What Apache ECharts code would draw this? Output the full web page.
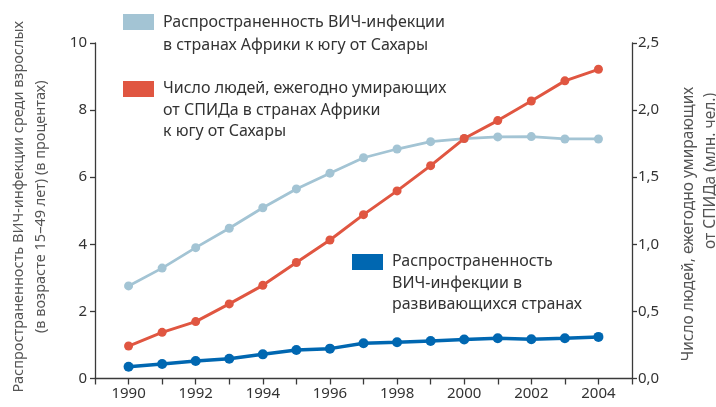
<!DOCTYPE html>
<html><head><meta charset="utf-8">
<script src="https://cdn.jsdelivr.net/npm/echarts@6/dist/echarts.min.js"></script>
<style>html,body{margin:0;padding:0;background:#fff}#c{width:716px;height:407px}</style>
</head><body><div id="c"></div>
<script>
var years = [1990,1991,1992,1993,1994,1995,1996,1997,1998,1999,2000,2001,2002,2003,2004];
var prevalenceSSA = [2.76,3.29,3.90,4.48,5.09,5.65,6.12,6.58,6.84,7.06,7.15,7.20,7.21,7.14,7.14];
var deathsSSA = [0.242,0.344,0.424,0.556,0.694,0.864,1.032,1.221,1.398,1.586,1.788,1.922,2.068,2.218,2.304];
var prevalenceDev = [0.35,0.43,0.52,0.59,0.72,0.85,0.89,1.05,1.08,1.12,1.16,1.20,1.17,1.20,1.24];
var xTickLabels = ["1990","1992","1994","1996","1998","2000","2002","2004"];
var seriesNames = [
  "Распространенность ВИЧ-инфекции\nв странах Африки к югу от Сахары",
  "Число людей, ежегодно умирающих\nот СПИДа в странах Африки\nк югу от Сахары",
  "Распространенность\nВИЧ-инфекции в\nразвивающихся странах"
];
var leftAxisName = "Распространенность ВИЧ-инфекции среди взрослых\n(в возрасте 15–49 лет) (в процентах)";
var rightAxisLines = ["Число людей, ежегодно умирающих", "от СПИДа (млн. чел.)"];
var colors = ["#a3c4d4","#e05641","#0067b1"];

function pairs(vals){ return years.map(function(y,i){ return [y, vals[i]]; }); }
var FONT = "Noto Sans";
var axisColor = "#3a3a3a";
var textColor = "#333";
var nameColor = "#555";

var chart = echarts.init(document.getElementById('c'), null, {renderer:'canvas'});
function legendItem(i, x, y, lh){
  return [
    {type:'rect', left:x, top:y, shape:{width:31,height:16}, style:{fill:colors[i]}},
    {type:'text', left:x+40, top:y-3, style:{text:seriesNames[i], font:'16px "'+FONT+'"', fill:textColor, lineHeight:lh}}
  ];
}
var rightName = [
  {type:'text', x:689, y:224, rotation:Math.PI/2, style:{text:rightAxisLines[0], font:'15.5px "'+FONT+'"', fill:nameColor, align:'center', verticalAlign:'middle'}},
  {type:'text', x:711, y:171, rotation:Math.PI/2, style:{text:rightAxisLines[1], font:'15.5px "'+FONT+'"', fill:nameColor, align:'center', verticalAlign:'middle'}}
];
var option = {
  animation:false,
  textStyle:{fontFamily:FONT},
  grid:{left:80, right:84, top:43, bottom:28.5},
  xAxis:{
    type:'value', min:1989, max:2005, interval:1,
    axisLine:{lineStyle:{color:axisColor, width:1.3}},
    axisTick:{length:6, lineStyle:{color:axisColor, width:1.3}},
    splitLine:{show:false},
    axisLabel:{color:textColor, fontSize:15, margin:8, fontFamily:FONT,
      formatter:function(v){ var s=String(v); return xTickLabels.indexOf(s)>=0 ? s : ''; }}
  },
  yAxis:[{
    type:'value', min:0, max:10, interval:2, position:'left',
    axisLine:{show:true, lineStyle:{color:axisColor, width:1.3}},
    axisTick:{show:true, length:5, lineStyle:{color:axisColor, width:1.3}},
    splitLine:{show:false},
    axisLabel:{color:textColor, fontSize:15, margin:8, fontFamily:FONT},
    name:leftAxisName, nameLocation:'middle', nameGap:43, nameRotate:90,
    nameTextStyle:{color:nameColor, fontSize:14.5, lineHeight:22, fontFamily:FONT, padding:[0,0,0,8]}
  },{
    type:'value', min:0, max:2.5, interval:0.5, position:'right',
    axisLine:{show:true, lineStyle:{color:axisColor, width:1.3}},
    axisTick:{show:true, length:5, lineStyle:{color:axisColor, width:1.3}},
    splitLine:{show:false},
    axisLabel:{color:textColor, fontSize:15, margin:6, fontFamily:FONT,
      formatter:function(v){ return v.toFixed(1).replace('.',','); }}
  }],
  series:[
    {name:seriesNames[0], type:'line', yAxisIndex:0, data:pairs(prevalenceSSA), symbol:'circle', symbolSize:9,
      lineStyle:{color:colors[0], width:2.8}, itemStyle:{color:colors[0]}, z:2},
    {name:seriesNames[1], type:'line', yAxisIndex:1, data:pairs(deathsSSA), symbol:'circle', symbolSize:9,
      lineStyle:{color:colors[1], width:3}, itemStyle:{color:colors[1]}, z:3},
    {name:seriesNames[2], type:'line', yAxisIndex:0, data:pairs(prevalenceDev), symbol:'circle', symbolSize:10,
      lineStyle:{color:colors[2], width:3.5}, itemStyle:{color:colors[2]}, z:4}
  ],
  graphic: [].concat(legendItem(0,123,14,23), legendItem(1,123,81,21.5), legendItem(2,352,254,21.5), rightName)
};
chart.setOption(option);
</script></body></html>
